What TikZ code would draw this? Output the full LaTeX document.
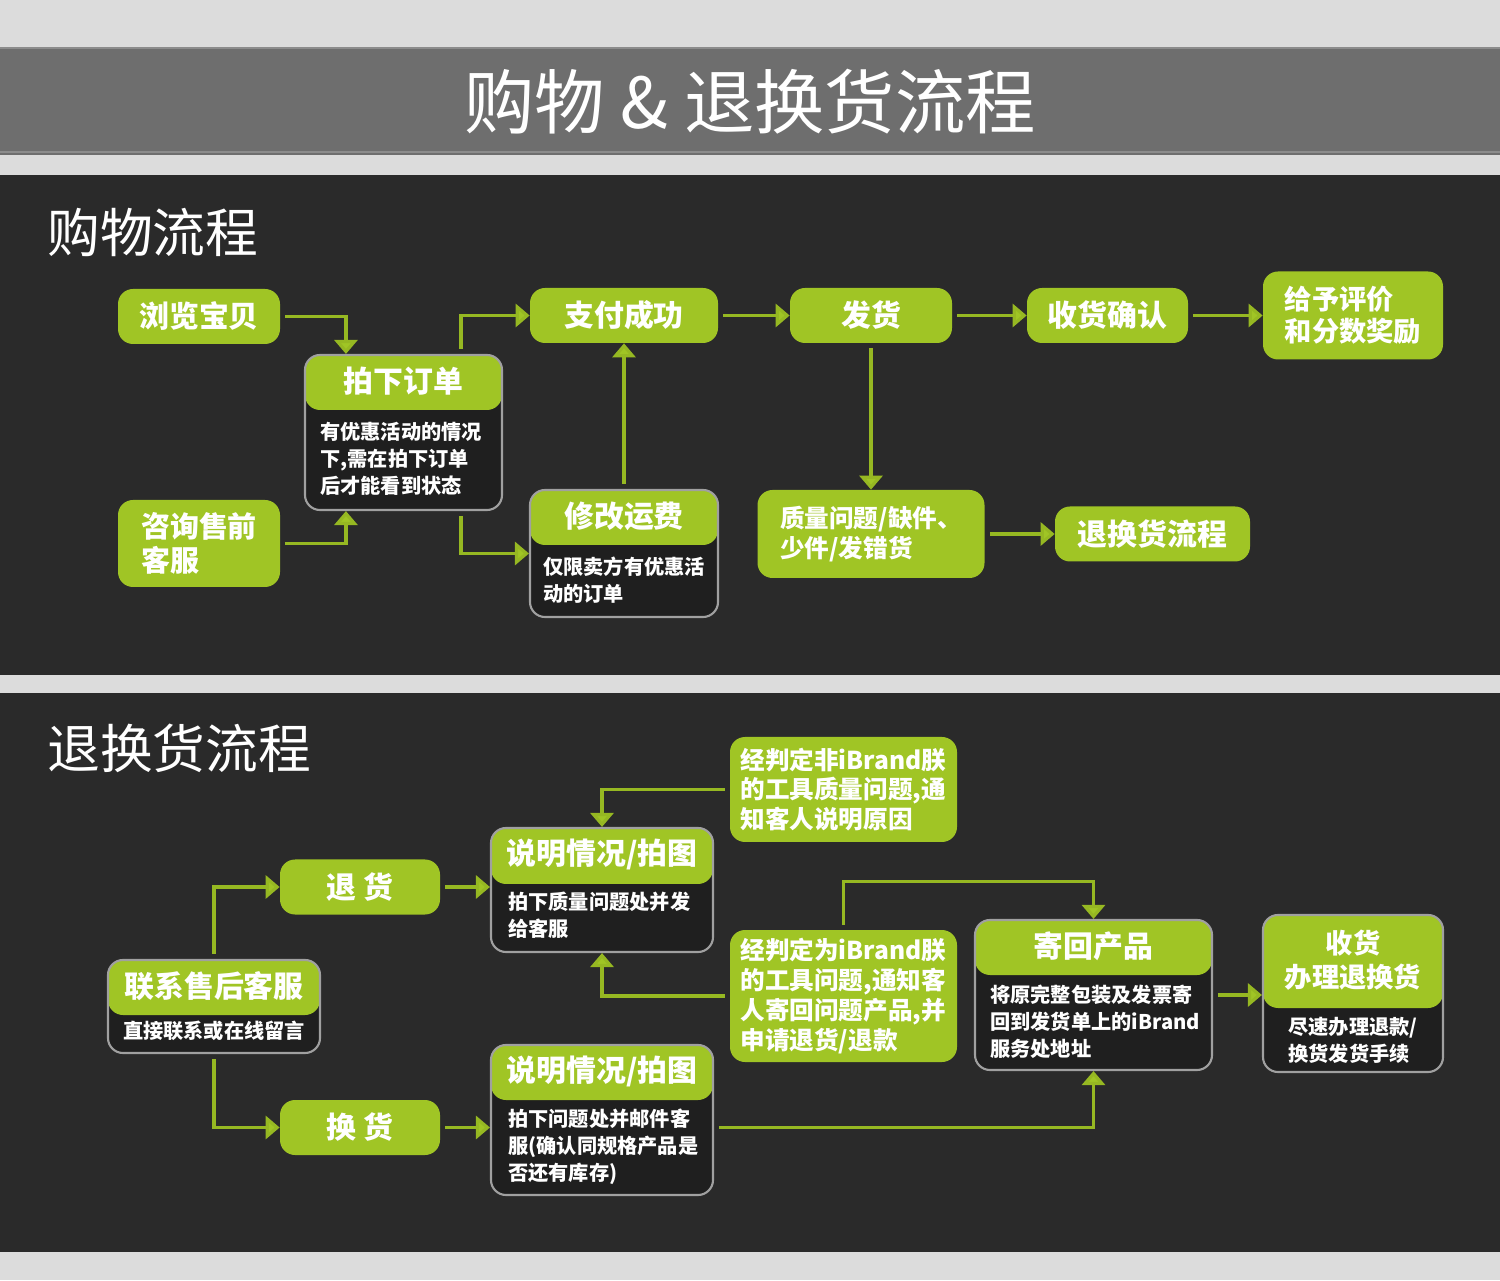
\documentclass[tikz,border=0pt]{standalone}
\usepackage{fontspec}
\newfontfamily\cjk{Noto Sans CJK SC}
\usetikzlibrary{arrows.meta,positioning,calc}
\definecolor{leaf}{RGB}{160,197,37}
\definecolor{leafline}{RGB}{150,184,34}
\definecolor{panel}{HTML}{2A2A2A}
\definecolor{bodyfill}{HTML}{1F1F1F}
\definecolor{framegray}{HTML}{A0A0A0}
\definecolor{page}{HTML}{DCDCDC}
\definecolor{titlebar}{HTML}{6E6E6E}

\begin{document}
\begin{tikzpicture}[
    >=Latex,
    font=\cjk,
    greenbox/.style={
        fill=leaf,
        rounded corners=3mm,
        text=white,
        minimum width=3.24cm,
        minimum height=1.1cm,
        align=center,
        font=\cjk\bfseries\fontsize{17}{20}\selectfont
    },
    notebox/.style={
        fill=leaf,
        rounded corners=3mm,
        text=white,
        minimum width=4.54cm,
        align=left,
        font=\cjk\bfseries\fontsize{14}{17}\selectfont
    },
    cardbox/.style={
        fill=bodyfill,
        draw=framegray,
        line width=1.2pt,
        rounded corners=3mm,
        path picture={
            \fill[leaf] (path picture bounding box.north west)
                rectangle ([yshift=-#1]path picture bounding box.north east);
        }
    },
    cardbox/.default=1.1cm,
    cardtitle/.style={
        text=white,
        align=center,
        font=\cjk\bfseries\fontsize{17}{20}\selectfont
    },
    cardtext/.style={
        text=white,
        align=left,
        inner sep=0pt,
        font=\cjk\bfseries\fontsize{11.5}{15.4}\selectfont
    },
    heading/.style={
        text=white,
        anchor=west,
        inner sep=0pt,
        font=\cjk\fontsize{30}{34}\selectfont
    },
    flowaux/.style={
        draw=leafline,
        line width=1.8pt,
        shorten <=1mm,
        -{Triangle[width=4.6mm,length=2.8mm,fill=leaf]}
    }
]

% page and panels
\useasboundingbox (0,0) rectangle (30,25.6);
\fill[page] (0,0) rectangle (30,25.6);
\fill[titlebar] (0,22.5) rectangle (30,24.66);
\draw[black!45, line width=1.5pt] (0,24.64) -- (30,24.64);
\draw[black!45, line width=1.5pt] (0,22.56) -- (30,22.56);
\fill[panel] (0,12.1) rectangle (30,22.1);
\fill[panel] (0,0.56) rectangle (30,11.74);

% title
\node[text=white, font=\cjk\fontsize{40}{44}\selectfont] (title) at (15,23.56)
{购物 \& 退换货流程};

% ---------------- shopping flow ----------------
\node[heading] (shophead) at (0.94,20.94) {购物流程};

\node[greenbox] (browse) at (3.98,19.27) {浏览宝贝};

\node[greenbox, align=left, minimum height=1.74cm,
      font=\cjk\bfseries\fontsize{16.5}{19}\selectfont] (consult) at (3.98,14.73)
{咨询售前\\客服};

\node[cardbox, minimum width=3.94cm, minimum height=3.1cm] (order) at (8.07,16.95) {};
\node[cardtitle] (ordertitle) at ([yshift=-0.55cm]order.north) {拍下订单};
\node[cardtext, anchor=west] (ordertext) at (6.4,16.42)
{有优惠活动的情况\\下,需在拍下订单\\后才能看到状态};

\node[greenbox, minimum width=3.76cm] (pay) at (12.48,19.29) {支付成功};

\node[cardbox, minimum width=3.76cm, minimum height=2.54cm] (fee) at (12.48,14.53) {};
\node[cardtitle] (feetitle) at ([yshift=-0.55cm]fee.north) {修改运费};
\node[cardtext, anchor=west] (feetext) at (10.86,13.99)
{仅限卖方有优惠活\\动的订单};

\node[greenbox] (ship) at (17.42,19.29) {发货};

\node[greenbox, minimum width=3.22cm] (confirm) at (22.15,19.29) {收货确认};

\node[greenbox, align=left, minimum width=3.6cm, minimum height=1.76cm,
      font=\cjk\bfseries\fontsize{15.5}{18.5}\selectfont] (rate) at (27.06,19.29)
{给予评价\\和分数奖励};

\node[notebox, minimum height=1.76cm] (problem) at (17.42,14.92)
{质量问题/缺件、\\少件/发错货};

\node[greenbox, minimum width=3.9cm] (toreturn) at (23.05,14.92) {退换货流程};

% shopping arrows
\draw[flowaux] (browse.east) -| ($(order.north west)+(0.84,0)$);
\draw[flowaux] (consult.east) -| ($(order.south west)+(0.84,0)$);
\draw[flowaux] ($(order.north west)+(3.14,0)$) |- (pay.west);
\draw[flowaux] ($(order.south west)+(3.14,0)$) |- (fee.west);
\draw[flowaux] (fee.north) -- (pay.south);
\draw[flowaux] (pay.east) -- (ship.west);
\draw[flowaux] (ship.east) -- (confirm.west);
\draw[flowaux] (confirm.east) -- (rate.west);
\draw[flowaux] (ship.south) -- (problem.north);
\draw[flowaux] (problem.east) -- (toreturn.west);

% ---------------- return / exchange flow ----------------
\node[heading] (returnhead) at (0.94,10.64) {退换货流程};

\node[cardbox, minimum width=4.24cm, minimum height=1.86cm] (contact) at (4.28,5.47) {};
\node[cardtitle] (contacttitle) at ([yshift=-0.55cm]contact.north) {联系售后客服};
\node[cardtext] (contacttext) at (4.28,4.98) {直接联系或在线留言};

\node[greenbox, minimum width=3.2cm] (ret) at (7.2,7.86) {退 货};
\node[greenbox, minimum width=3.2cm] (exch) at (7.2,3.05) {换 货};

\node[cardbox=1.12cm, minimum width=4.44cm, minimum height=2.48cm] (explainA) at (12.04,7.8) {};
\node[cardtitle] (explainAtitle) at ([yshift=-0.56cm]explainA.north) {说明情况/拍图};
\node[cardtext, anchor=west] (explainAtext) at (10.16,7.29)
{拍下质量问题处并发\\给客服};

\node[cardbox, minimum width=4.44cm, minimum height=3.0cm] (explainB) at (12.04,3.2) {};
\node[cardtitle] (explainBtitle) at ([yshift=-0.55cm]explainB.north) {说明情况/拍图};
\node[cardtext, anchor=west] (explainBtext) at (10.16,2.67)
{拍下问题处并邮件客\\服(确认同规格产品是\\否还有库存)};

\node[notebox, minimum height=2.1cm] (notours) at (16.87,9.81)
{经判定非iBrand朕\\的工具质量问题,通\\知客人说明原因};

\node[notebox, minimum height=2.64cm] (ours) at (16.87,5.68)
{经判定为iBrand朕\\的工具问题,通知客\\人寄回问题产品,并\\申请退货/退款};

\node[cardbox, minimum width=4.74cm, minimum height=3.0cm] (sendback) at (21.87,5.7) {};
\node[cardtitle] (sendbacktitle) at ([yshift=-0.55cm]sendback.north) {寄回产品};
\node[cardtext, anchor=west] (sendbacktext) at (19.8,5.16)
{将原完整包装及发票寄\\回到发货单上的iBrand\\服务处地址};

\node[cardbox=1.86cm, minimum width=3.6cm, minimum height=3.14cm] (done) at (27.06,5.73) {};
\node[cardtitle, font=\cjk\bfseries\fontsize{15.5}{19.3}\selectfont] (donetitle)
    at ([yshift=-0.93cm]done.north) {收货\\办理退换货};
\node[cardtext] (donetext) at (27.06,4.79) {尽速办理退款/\\换货发货手续};

% return arrows
\draw[flowaux] (contact.north) |- (ret.west);
\draw[flowaux] (contact.south) |- (exch.west);
\draw[flowaux] (ret.east) -- (ret.east -| explainA.west);
\draw[flowaux] (exch.east) -- (exch.east -| explainB.west);
\draw[flowaux] (notours.west) -| (explainA.north);
\draw[flowaux] (ours.west) -| (explainA.south);
\draw[flowaux] (ours.north) -- ++(0,0.96) -| (sendback.north);
\draw[flowaux] (exch.east -| explainB.east) -| (sendback.south);
\draw[flowaux] (sendback.east) -- (sendback.east -| done.west);

\end{tikzpicture}
\end{document}
